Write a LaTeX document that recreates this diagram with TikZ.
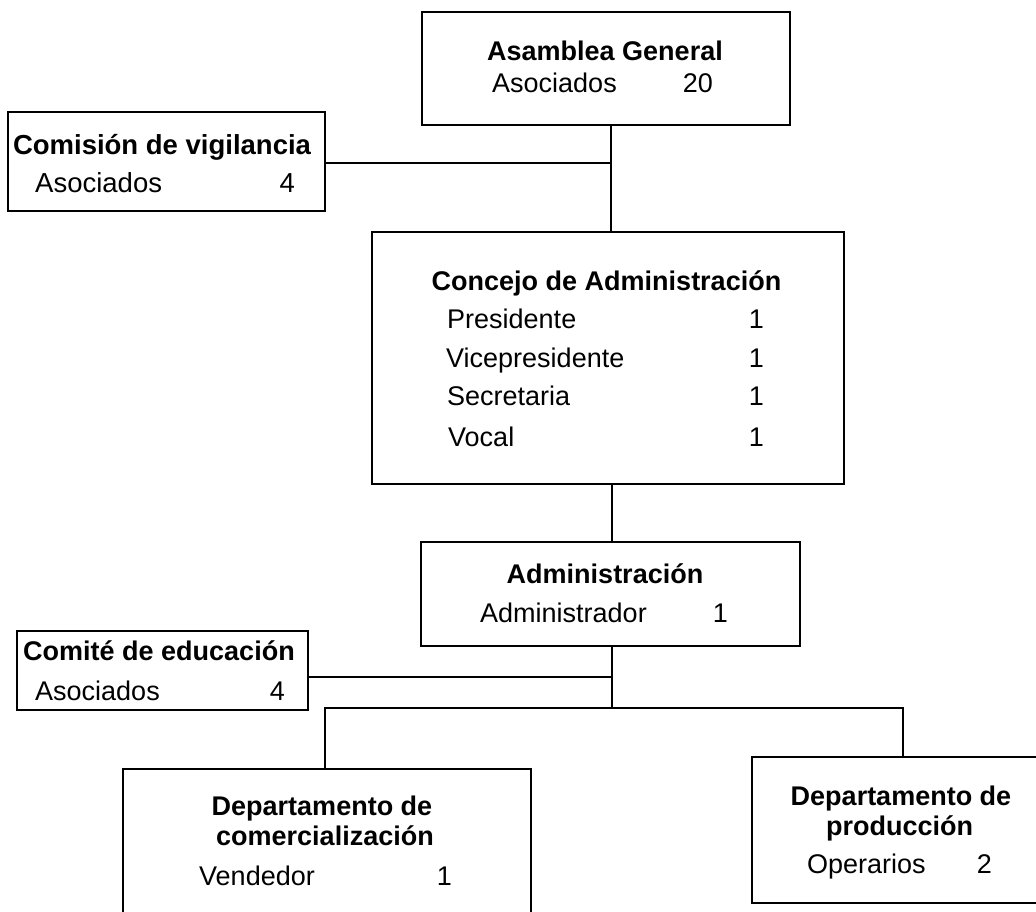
\documentclass[tikz,border=0pt]{standalone}
\usepackage{fontspec}
\setmainfont{Liberation Sans}
\begin{document}
\begin{tikzpicture}[x=1pt,y=-1pt,
  box/.style={draw,line width=1.5pt,rectangle,inner sep=0pt},
  head/.style={font=\fontsize{27}{32}\selectfont\bfseries,anchor=base,inner sep=0pt},
  lbl/.style={font=\fontsize{27}{32}\selectfont,anchor=base west,inner sep=0pt},
  num/.style={font=\fontsize{27}{32}\selectfont,anchor=base east,inner sep=0pt},
  link/.style={line width=1.5pt}]
\useasboundingbox (0,0) rectangle (1036,911);
\clip (0,0) rectangle (1036,911);

% Boxes
\node[box,minimum width=368pt,minimum height=113pt] (asamblea) at (606,68.5) {};
\node[box,minimum width=317pt,minimum height=99pt] (comision) at (166.5,161.5) {};
\node[box,minimum width=472pt,minimum height=252pt] (concejo) at (608,358) {};
\node[box,minimum width=379pt,minimum height=104pt] (admin) at (610.5,594) {};
\node[box,minimum width=291pt,minimum height=79pt] (comite) at (162.5,670.5) {};
\node[box,minimum width=408pt,minimum height=191pt] (comercial) at (327,864.5) {};
\node[box,minimum width=328pt,minimum height=146pt] (produccion) at (916,830) {};

% Asamblea General
\node[head] (t1) at (605,60) {Asamblea General};
\node[lbl] (t1a) at (492,92) {Asociados};
\node[num] (t1b) at (713,92) {20};

% Comision de vigilancia
\node[head,font=\fontsize{27.5}{33}\selectfont\bfseries] (t2) at (162,154) {Comisión de vigilancia};
\node[lbl,font=\fontsize{27.5}{33}\selectfont] (t2a) at (35,192) {Asociados};
\node[num,font=\fontsize{27.5}{33}\selectfont] (t2b) at (295,192) {4};

% Concejo de Administracion
\node[head] (t3) at (606.5,290) {Concejo de Administración};
\node[lbl] (t3a) at (447,328) {Presidente};
\node[num] (t3b) at (764,328) {1};
\node[lbl] (t3c) at (446,367) {Vicepresidente};
\node[num] (t3d) at (764,367) {1};
\node[lbl] (t3e) at (447,405) {Secretaria};
\node[num] (t3f) at (764,405) {1};
\node[lbl] (t3g) at (448,446) {Vocal};
\node[num] (t3h) at (764,446) {1};

% Administracion
\node[head] (t4) at (605,583) {Administración};
\node[lbl] (t4a) at (480,622) {Administrador};
\node[num] (t4b) at (728,622) {1};

% Comite de educacion
\node[head] (t5) at (159,660) {Comité de educación};
\node[lbl] (t5a) at (35,700) {Asociados};
\node[num] (t5b) at (285,700) {4};

% Departamento de comercializacion
\node[head] (t6) at (322,815) {Departamento de};
\node[head] (t6a) at (325,845) {comercialización};
\node[lbl] (t6b) at (199,885) {Vendedor};
\node[num] (t6c) at (452,885) {1};

% Departamento de produccion
\node[head] (t7) at (901,805) {Departamento de};
\node[head] (t7a) at (899.5,835) {producción};
\node[lbl] (t7b) at (807,873) {Operarios};
\node[num] (t7c) at (992,873) {2};

% Connectors
\coordinate (j1) at (611,163);
\coordinate (j2) at (612,677);
\coordinate (bus) at (612,708);
\coordinate (bl) at (325,708);
\coordinate (br) at (903,708);
\draw[link] (asamblea.south -| j1) -- (concejo.north -| j1);
\draw[link] (comision.east |- j1) -- (j1);
\draw[link] (concejo.south -| j2) -- (admin.north -| j2);
\draw[link] (admin.south -| j2) -- (bus);
\draw[link] (comite.east |- j2) -- (j2);
\draw[link] (comercial.north -| bl) -- (bl) -- (br) -- (produccion.north -| br);
\end{tikzpicture}
\end{document}
